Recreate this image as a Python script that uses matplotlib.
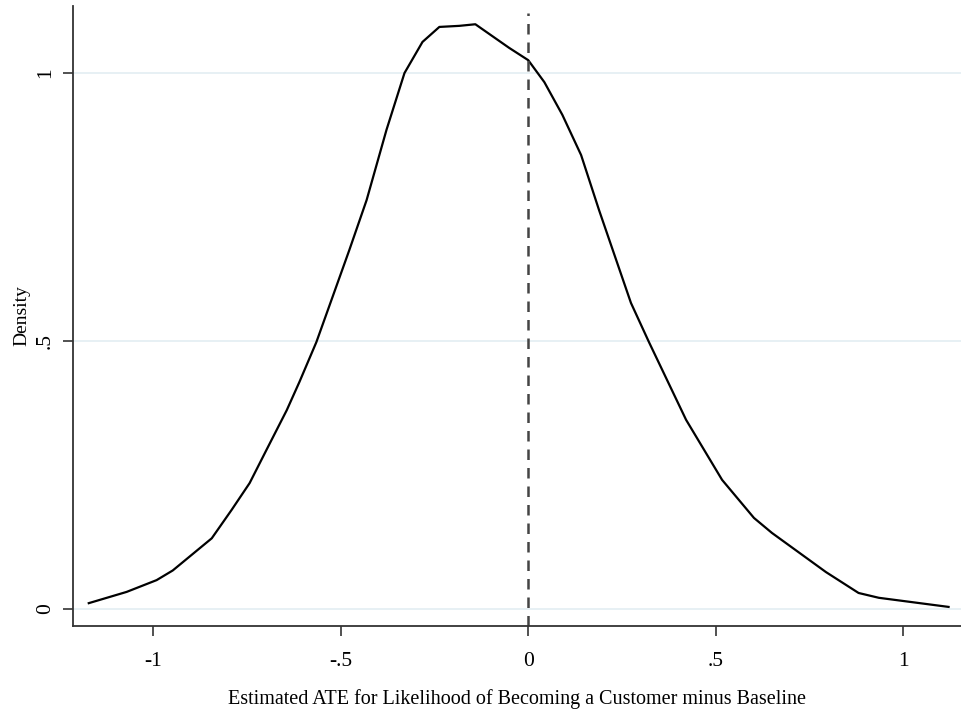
import numpy as np
import matplotlib.pyplot as plt

# kernel density estimate
ate_x = [-1.172, -1.071, -0.991, -0.948, -0.844, -0.791, -0.743, -0.698,
         -0.644, -0.610, -0.565, -0.522, -0.477, -0.431, -0.378, -0.330,
         -0.282, -0.237, -0.184, -0.141, -0.051, 0.0, 0.043, 0.091,
         0.141, 0.189, 0.274, 0.322, 0.421, 0.517, 0.602, 0.650,
         0.794, 0.881, 0.935, 1.121]
density = [0.011, 0.032, 0.054, 0.072, 0.132, 0.185, 0.235, 0.297,
           0.371, 0.424, 0.498, 0.582, 0.670, 0.763, 0.894, 1.000,
           1.058, 1.086, 1.088, 1.091, 1.047, 1.024, 0.983, 0.922,
           0.847, 0.744, 0.571, 0.498, 0.353, 0.241, 0.170, 0.142,
           0.069, 0.030, 0.021, 0.004]

xticks = [-1, -0.5, 0, 0.5, 1]
xtick_labels = ["-1", "-.5", "0", ".5", "1"]
yticks = [0, 0.5, 1]
ytick_labels = ["0", ".5", "1"]

plt.rcParams['font.family'] = ['Liberation Serif', 'DejaVu Serif']

fig = plt.figure(figsize=(9.62, 7.09), dpi=100)
ax = fig.add_axes([0.0759, 0.117, 0.923, 0.8745])

for y in yticks:
    ax.axhline(y, color="#e3eef2", linewidth=1.2, zorder=0)

ax.plot(ate_x, density, color="black", linewidth=1.6)
ax.vlines(0, -0.0317, 1.112, colors="#444444", linewidth=1.8,
          linestyles=(0, (4.2, 3.2)))

ax.set_xlim(-1.214, 1.154)
ax.set_ylim(-0.0317, 1.125)

ax.set_xticks(xticks)
ax.set_xticklabels(xtick_labels, fontsize=15.5)
ax.set_yticks(yticks)
ax.set_yticklabels(ytick_labels, fontsize=15.5, rotation=90, va="center")
ax.tick_params(length=7, width=1.2, color="#333333")
ax.tick_params(axis="x", pad=12)
ax.tick_params(axis="y", pad=6)

for side in ["top", "right"]:
    ax.spines[side].set_visible(False)
for side in ["left", "bottom"]:
    ax.spines[side].set_color("#333333")
    ax.spines[side].set_linewidth(1.3)

ax.set_xlabel("Estimated ATE for Likelihood of Becoming a Customer minus Baseline",
              fontsize=14.5, labelpad=13)
ax.set_ylabel("Density", fontsize=14, labelpad=4)

fig.savefig("out.png", dpi=100)
